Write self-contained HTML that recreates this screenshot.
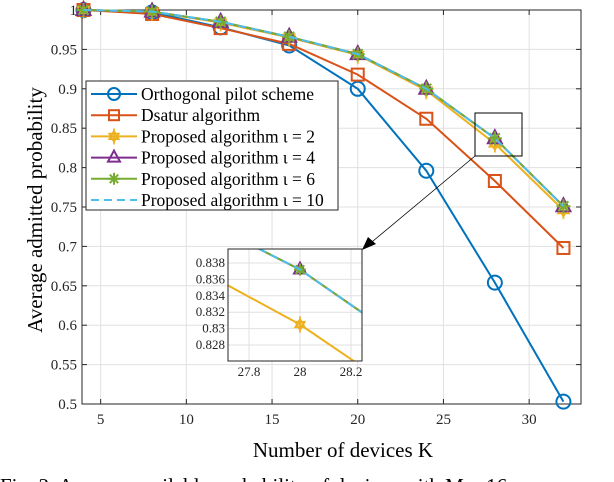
<!DOCTYPE html>
<html><head><meta charset="utf-8"><style>
html,body{margin:0;background:#fff;width:614px;height:482px;overflow:hidden}
svg{display:block;font-family:"Liberation Serif",serif}
</style></head><body>
<svg id="chart" width="614" height="482" viewBox="0 0 614 482">
<g id="grid"></g>
<g id="axes"></g>
<g id="series"></g>
<g id="inset"></g>
<g id="legend"></g>
<text x="343" y="457" font-size="21" text-anchor="middle">Number of devices K</text>
<text transform="translate(42,210) rotate(-90)" font-size="21" text-anchor="middle">Average admitted probability</text>
<text x="0" y="493" font-size="21">Fig. 3. Average available probability of devices with M = 16</text>
</svg>
<script>
const categories=[4,8,12,16,20,24,28,32];
const orthogonal=[1,0.997,0.978,0.955,0.900,0.796,0.654,0.503];
const dsatur=[1,0.995,0.977,0.957,0.918,0.862,0.783,0.698];
const proposed2=[1,0.998,0.984,0.965,0.943,0.898,0.8305,0.746];
const proposed4=[1,0.998,0.985,0.966,0.944,0.900,0.8372,0.751];
const proposed6=[1,0.998,0.985,0.966,0.944,0.900,0.8372,0.751];
const proposed10=[1,0.998,0.985,0.966,0.944,0.900,0.8372,0.751];
const xTicks=[5,10,15,20,25,30];
const yTicks=[0.5,0.55,0.6,0.65,0.7,0.75,0.8,0.85,0.9,0.95,1];
const yTickLabels=["0.5","0.55","0.6","0.65","0.7","0.75","0.8","0.85","0.9","0.95","1"];
const insetXTicks=[27.8,28,28.2];
const insetYTicks=[0.828,0.83,0.832,0.834,0.836,0.838];
const legendLabels=["Orthogonal pilot scheme","Dsatur algorithm","Proposed algorithm ι = 2","Proposed algorithm ι = 4","Proposed algorithm ι = 6","Proposed algorithm ι = 10"];

const NS="http://www.w3.org/2000/svg";
const L=82,R=581,T=10,B=404;
const xs=v=>83.5+(v-4)*17.14;
const ys=v=>B-(v-0.5)*(B-T)/0.5;
function mk(tag,attrs,parent){const e=document.createElementNS(NS,tag);for(const k in attrs)e.setAttribute(k,attrs[k]);parent.appendChild(e);return e;}
const grid=document.getElementById('grid'),axes=document.getElementById('axes'),ser=document.getElementById('series');
mk('rect',{x:L,y:T,width:R-L,height:B-T,fill:'#fff'},grid);
xTicks.forEach(t=>{
 const g=mk('line',{x1:xs(t),x2:xs(t),y1:T,y2:B,stroke:'#e0e0e0','stroke-width':1},grid);
 
 
 const tx=mk('text',{x:xs(t),y:B+20,'font-size':15,'text-anchor':'middle',fill:'#262626'},axes);tx.textContent=t;
 
 
 mk('line',{x1:xs(t),x2:xs(t),y1:B,y2:B-5,stroke:'#262626'},axes);
 mk('line',{x1:xs(t),x2:xs(t),y1:T,y2:T+5,stroke:'#262626'},axes);
});
yTicks.forEach((t,i)=>{
 const g=mk('line',{x1:L,x2:R,y1:ys(t),y2:ys(t),stroke:'#e0e0e0','stroke-width':1},grid);
 
 
 const tx=mk('text',{x:L-5,y:ys(t)+5,'font-size':15,'text-anchor':'end',fill:'#262626'},axes);tx.textContent=yTickLabels[i];
 
 
 mk('line',{x1:L,x2:L+5,y1:ys(t),y2:ys(t),stroke:'#262626'},axes);
 mk('line',{x1:R,x2:R-5,y1:ys(t),y2:ys(t),stroke:'#262626'},axes);
});
mk('rect',{x:L,y:T,width:R-L,height:B-T,fill:'none',stroke:'#262626','stroke-width':1},axes);

function marker(type,x,y,color,parent,s){
 s=s||7;
 if(type==='circle')return mk('circle',{cx:x,cy:y,r:s,fill:'none',stroke:color,'stroke-width':2},parent);
 if(type==='square')return mk('rect',{x:x-s+1,y:y-s+1,width:2*s-2,height:2*s-2,fill:'none',stroke:color,'stroke-width':2},parent);
 if(type==='tri')return mk('polygon',{points:`${x},${y-s-1} ${x-s},${y+s-2} ${x+s},${y+s-2}`,fill:'none',stroke:color,'stroke-width':2},parent);
 if(type==='hex'){const a=s*0.9;return mk('polygon',{points:`${x},${y-a} ${x+a*0.87},${y+a*0.5} ${x-a*0.87},${y+a*0.5} ${x},${y-a} ${x},${y+a} ${x+a*0.87},${y-a*0.5} ${x-a*0.87},${y-a*0.5} ${x},${y+a}`,fill:'none',stroke:color,'stroke-width':1.8},parent);}
 if(type==='star'){const g=mk('g',{stroke:color,'stroke-width':2},parent);for(let k=0;k<4;k++){const an=k*Math.PI/4;mk('line',{x1:x-s*Math.cos(an),y1:y-s*Math.sin(an),x2:x+s*Math.cos(an),y2:y+s*Math.sin(an)},g);}return g;}
}
const seriesDefs=[
 {d:orthogonal,c:'#0072bd',m:'circle',n:'orthogonal'},
 {d:dsatur,c:'#d95319',m:'square',n:'dsatur'},
 {d:proposed2,c:'#edb120',m:'hex',n:'proposed-2'},
 {d:proposed4,c:'#7e2f8e',m:'tri',n:'proposed-4'},
 {d:proposed6,c:'#77ac30',m:'star',n:'proposed-6'},
 {d:proposed10,c:'#4dbeee',m:null,n:'proposed-10',dash:'8,5'}
];
seriesDefs.forEach(s=>{
 const pts=categories.map((c,i)=>xs(c)+','+ys(s.d[i])).join(' ');
 const pl=mk('polyline',{points:pts,fill:'none',stroke:s.c,'stroke-width':2},ser);
 if(s.dash)pl.setAttribute('stroke-dasharray',s.dash);
 
 
 if(s.m)categories.forEach((c,i)=>{const mm=marker(s.m,xs(c),ys(s.d[i]),s.c,ser);
  
  });
});
const ann=mk('g',{},ser);


mk('rect',{x:475,y:113,width:47,height:43,fill:'none',stroke:'#000','stroke-width':1},ann);
mk('line',{x1:475,y1:156,x2:367,y2:246,stroke:'#000','stroke-width':0.8},ann);
mk('polygon',{points:'362,250 376,244 368,237',fill:'#000'},ann);

const ins=document.getElementById('inset');
const IL=228,IR=362,IT=249,IB=361;
const ixs=v=>249+(v-27.8)*(351-249)/0.4;
const iys=v=>263+(0.838-v)*(345-263)/0.010;
mk('rect',{x:IL,y:IT,width:IR-IL,height:IB-IT,fill:'#fff'},ins);
insetXTicks.forEach(t=>{mk('line',{x1:ixs(t),x2:ixs(t),y1:IT,y2:IB,stroke:'#e0e0e0'},ins);
 const tx=mk('text',{x:ixs(t),y:IB+15,'font-size':13,'text-anchor':'middle',fill:'#262626'},ins);tx.textContent=t;
 
 });
insetYTicks.forEach(t=>{mk('line',{x1:IL,x2:IR,y1:iys(t),y2:iys(t),stroke:'#e0e0e0'},ins);
 const tx=mk('text',{x:IL-3,y:iys(t)+4,'font-size':13,'text-anchor':'end',fill:'#262626'},ins);tx.textContent=String(t);
 
 });
mk('clipPath',{id:'ic'},ins).appendChild((()=>{const r=document.createElementNS(NS,'rect');r.setAttribute('x',IL);r.setAttribute('y',IT);r.setAttribute('width',IR-IL);r.setAttribute('height',IB-IT);return r;})());
const ig=mk('g',{'clip-path':'url(#ic)'},ins);
[2,3,4,5].forEach(k=>{const s=seriesDefs[k];
 const pts=categories.map((c,i)=>ixs(c)+','+iys(s.d[i])).join(' ');
 const pl=mk('polyline',{points:pts,fill:'none',stroke:s.c,'stroke-width':2},ig);
 if(s.dash)pl.setAttribute('stroke-dasharray',s.dash);
 
 
 if(s.m){const mm=marker(s.m,ixs(28),iys(s.d[6]),s.c,ig,6);
  
  }
});
mk('rect',{x:IL,y:IT,width:IR-IL,height:IB-IT,fill:'none',stroke:'#262626'},ins);

const lg=document.getElementById('legend');
const lb=mk('rect',{x:86,y:81,width:252,height:129,fill:'#fff',stroke:'#262626'},lg);


legendLabels.forEach((lab,i)=>{const s=seriesDefs[i];const y=94+i*21.2;
 const g=mk('g',{},lg);
 
 
 const ln=mk('line',{x1:91,x2:137,y1:y,y2:y,stroke:s.c,'stroke-width':2},g);
 if(s.dash)ln.setAttribute('stroke-dasharray','8,5');
 if(s.m)marker(s.m,114,y,s.c,g,6);
 const t=mk('text',{x:141,y:y+6,'font-size':17.5,fill:'#000'},g);t.textContent=lab;});
</script>
</body></html>
